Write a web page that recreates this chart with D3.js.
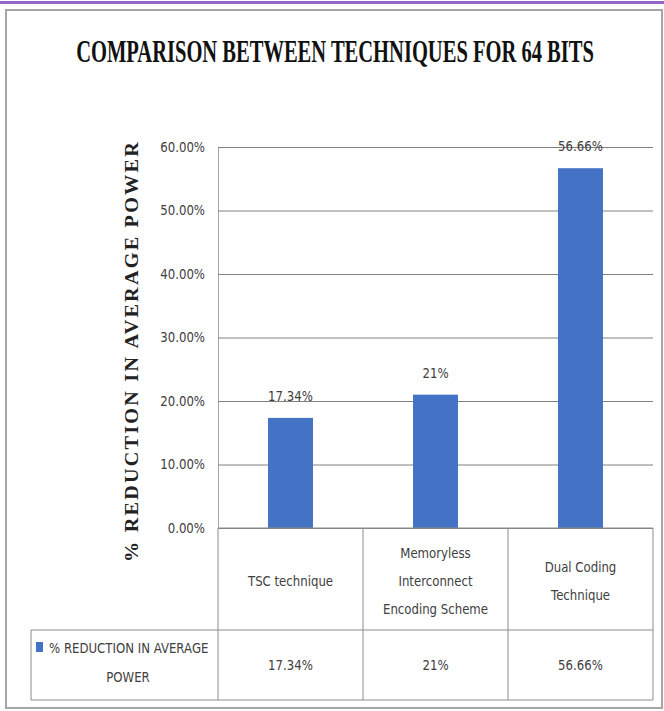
<!DOCTYPE html>
<html>
<head>
<meta charset="utf-8">
<script src="https://cdn.jsdelivr.net/npm/d3@7"></script>
<style>
  body { margin: 0; background: #fff; }
  .small { font-family: 'DejaVu Sans', sans-serif; fill: #404040; }
</style>
</head>
<body>
<div id="chart"></div>
<script>
// Chart data
var categories = ['TSC technique', 'Memoryless Interconnect Encoding Scheme', 'Dual Coding Technique'];
var categoryLines = [['TSC technique'], ['Memoryless', 'Interconnect', 'Encoding Scheme'], ['Dual Coding', 'Technique']];
var values = [0.1734, 0.21, 0.5666];
var valueLabels = ['17.34%', '21%', '56.66%'];
var yTicks = [0, 0.1, 0.2, 0.3, 0.4, 0.5, 0.6];
var seriesName = ['% REDUCTION IN AVERAGE', 'POWER'];
var title = 'COMPARISON BETWEEN TECHNIQUES FOR 64 BITS';
var yTitle = '% REDUCTION IN AVERAGE POWER';

var W = 664, H = 711;
var plot = {left: 218, right: 653, top: 147, bottom: 528};
var tableRow = 630, tableBottom = 700, legendLeft = 31;
var barColor = '#4472c4';
var squeeze = 0.84; // narrow look of the small labels

var svg = d3.select('#chart').append('svg')
    .attr('width', W)
    .attr('height', H);

// purple strip and outer frame
svg.append('rect').attr('x', 0).attr('y', 1).attr('width', W).attr('height', 3).attr('fill', '#9466c6');
svg.append('rect').attr('x', 6).attr('y', 10).attr('width', 656).attr('height', 698)
    .attr('fill', 'none').attr('stroke', '#a6a6a6').attr('stroke-width', 2);

// Title (narrow bold serif: squeeze it horizontally)
var titleT = svg.append('text')
    .attr('text-anchor', 'middle')
    .style('font-family', "'Liberation Serif', serif")
    .style('font-weight', 'bold')
    .style('font-size', '31px')
    .attr('fill', '#111')
    .text(title);
var tLen = titleT.node().getComputedTextLength();
titleT.attr('transform', `translate(335,62) scale(${518 / tLen},1)`);

// Scales
var xScale = d3.scaleBand().domain(categories)
    .range([plot.left, plot.right])
    .paddingInner(0.69).paddingOuter(0.345);
var yScale = d3.scaleLinear().domain([0, 0.6]).range([plot.bottom, plot.top]);

// Y axis with gridlines
var yAxis = d3.axisLeft(yScale)
    .tickValues(yTicks)
    .tickFormat(d3.format('.2%'))
    .tickSizeInner(-(plot.right - plot.left))
    .tickSizeOuter(0)
    .tickPadding(13);
var gY = svg.append('g').attr('transform', `translate(${plot.left},0)`).call(yAxis);
gY.select('.domain').attr('stroke', '#a6a6a6');
gY.selectAll('.tick line').attr('stroke', '#808080');
gY.selectAll('.tick text').attr('class', 'small').style('font-size', '14px').attr('fill', '#4d4d4d');

// Bars
svg.selectAll('rect.bar').data(values).enter().append('rect')
    .attr('class', 'bar')
    .attr('x', (d, i) => xScale(categories[i]))
    .attr('y', (d) => yScale(d))
    .attr('width', xScale.bandwidth())
    .attr('height', (d) => yScale(0) - yScale(d))
    .attr('fill', barColor);

// Data labels
svg.selectAll('text.dlabel').data(values).enter().append('text')
    .attr('class', 'dlabel small')
    .attr('x', (d, i) => xScale(categories[i]) + xScale.bandwidth() / 2)
    .attr('y', (d) => yScale(d) - 17)
    .attr('text-anchor', 'middle')
    .style('font-size', '14px')
    .text((d, i) => valueLabels[i]);

// Y axis title
svg.append('text')
    .attr('transform', 'translate(138,351) rotate(-90)')
    .attr('text-anchor', 'middle')
    .attr('textLength', 422).attr('lengthAdjust', 'spacingAndGlyphs')
    .style('font-family', "'Liberation Serif', serif")
    .style('font-weight', 'bold')
    .style('font-size', '18px')
    .style('letter-spacing', '2px')
    .attr('fill', '#222')
    .text(yTitle);

// Data table
var step = xScale.step();
var tbl = svg.append('g').attr('stroke', '#8c8c8c').attr('stroke-width', 1);
tbl.append('line').attr('x1', plot.left).attr('x2', plot.right).attr('y1', plot.bottom).attr('y2', plot.bottom);
tbl.append('line').attr('x1', legendLeft).attr('x2', plot.right).attr('y1', tableRow).attr('y2', tableRow);
tbl.append('line').attr('x1', legendLeft).attr('x2', plot.right).attr('y1', tableBottom).attr('y2', tableBottom);
tbl.append('line').attr('x1', legendLeft).attr('x2', legendLeft).attr('y1', tableRow).attr('y2', tableBottom);
tbl.selectAll('line.col').data(d3.range(categories.length + 1)).enter().append('line')
    .attr('class', 'col')
    .attr('x1', (i) => plot.left + i * step).attr('x2', (i) => plot.left + i * step)
    .attr('y1', plot.bottom).attr('y2', tableBottom);

// category labels
var catG = svg.selectAll('g.cat').data(categories).enter().append('g')
    .attr('class', 'cat')
    .attr('transform', (d) => `translate(${xScale(d) + xScale.bandwidth() / 2},0)`);
catG.each(function (d, i) {
    var lines = categoryLines[i];
    var midY = (plot.bottom + tableRow) / 2 + 2;
    var lh = 28;
    d3.select(this).selectAll('text').data(lines).enter().append('text')
        .attr('class', 'small')
        .attr('text-anchor', 'middle')
        .attr('x', 0)
        .attr('y', (l, j) => midY + (j - (lines.length - 1) / 2) * lh + 5)
        .style('font-size', '14px')
        .text((l) => l);
});

// values row
svg.selectAll('text.tval').data(valueLabels).enter().append('text')
    .attr('class', 'tval small')
    .attr('x', (d, i) => xScale(categories[i]) + xScale.bandwidth() / 2)
    .attr('y', 670)
    .attr('text-anchor', 'middle')
    .style('font-size', '14px')
    .text((d) => d);

// legend cell
svg.append('rect').attr('x', 36).attr('y', 642).attr('width', 7).attr('height', 10).attr('fill', barColor);
svg.append('text').attr('class', 'small')
    .attr('x', 49).attr('y', 653)
    .style('font-size', '14px')
    .text(seriesName[0]);
svg.append('text').attr('class', 'small')
    .attr('x', 128).attr('y', 682)
    .attr('text-anchor', 'middle')
    .style('font-size', '14px')
    .text(seriesName[1]);

// the small labels use a narrow face in the original: squeeze them horizontally
svg.selectAll('text.small').each(function () {
    var t = d3.select(this);
    var x = +t.attr('x') || 0;
    t.attr('x', x / squeeze).attr('transform', `scale(${squeeze},1)`);
});
</script>
</body>
</html>
